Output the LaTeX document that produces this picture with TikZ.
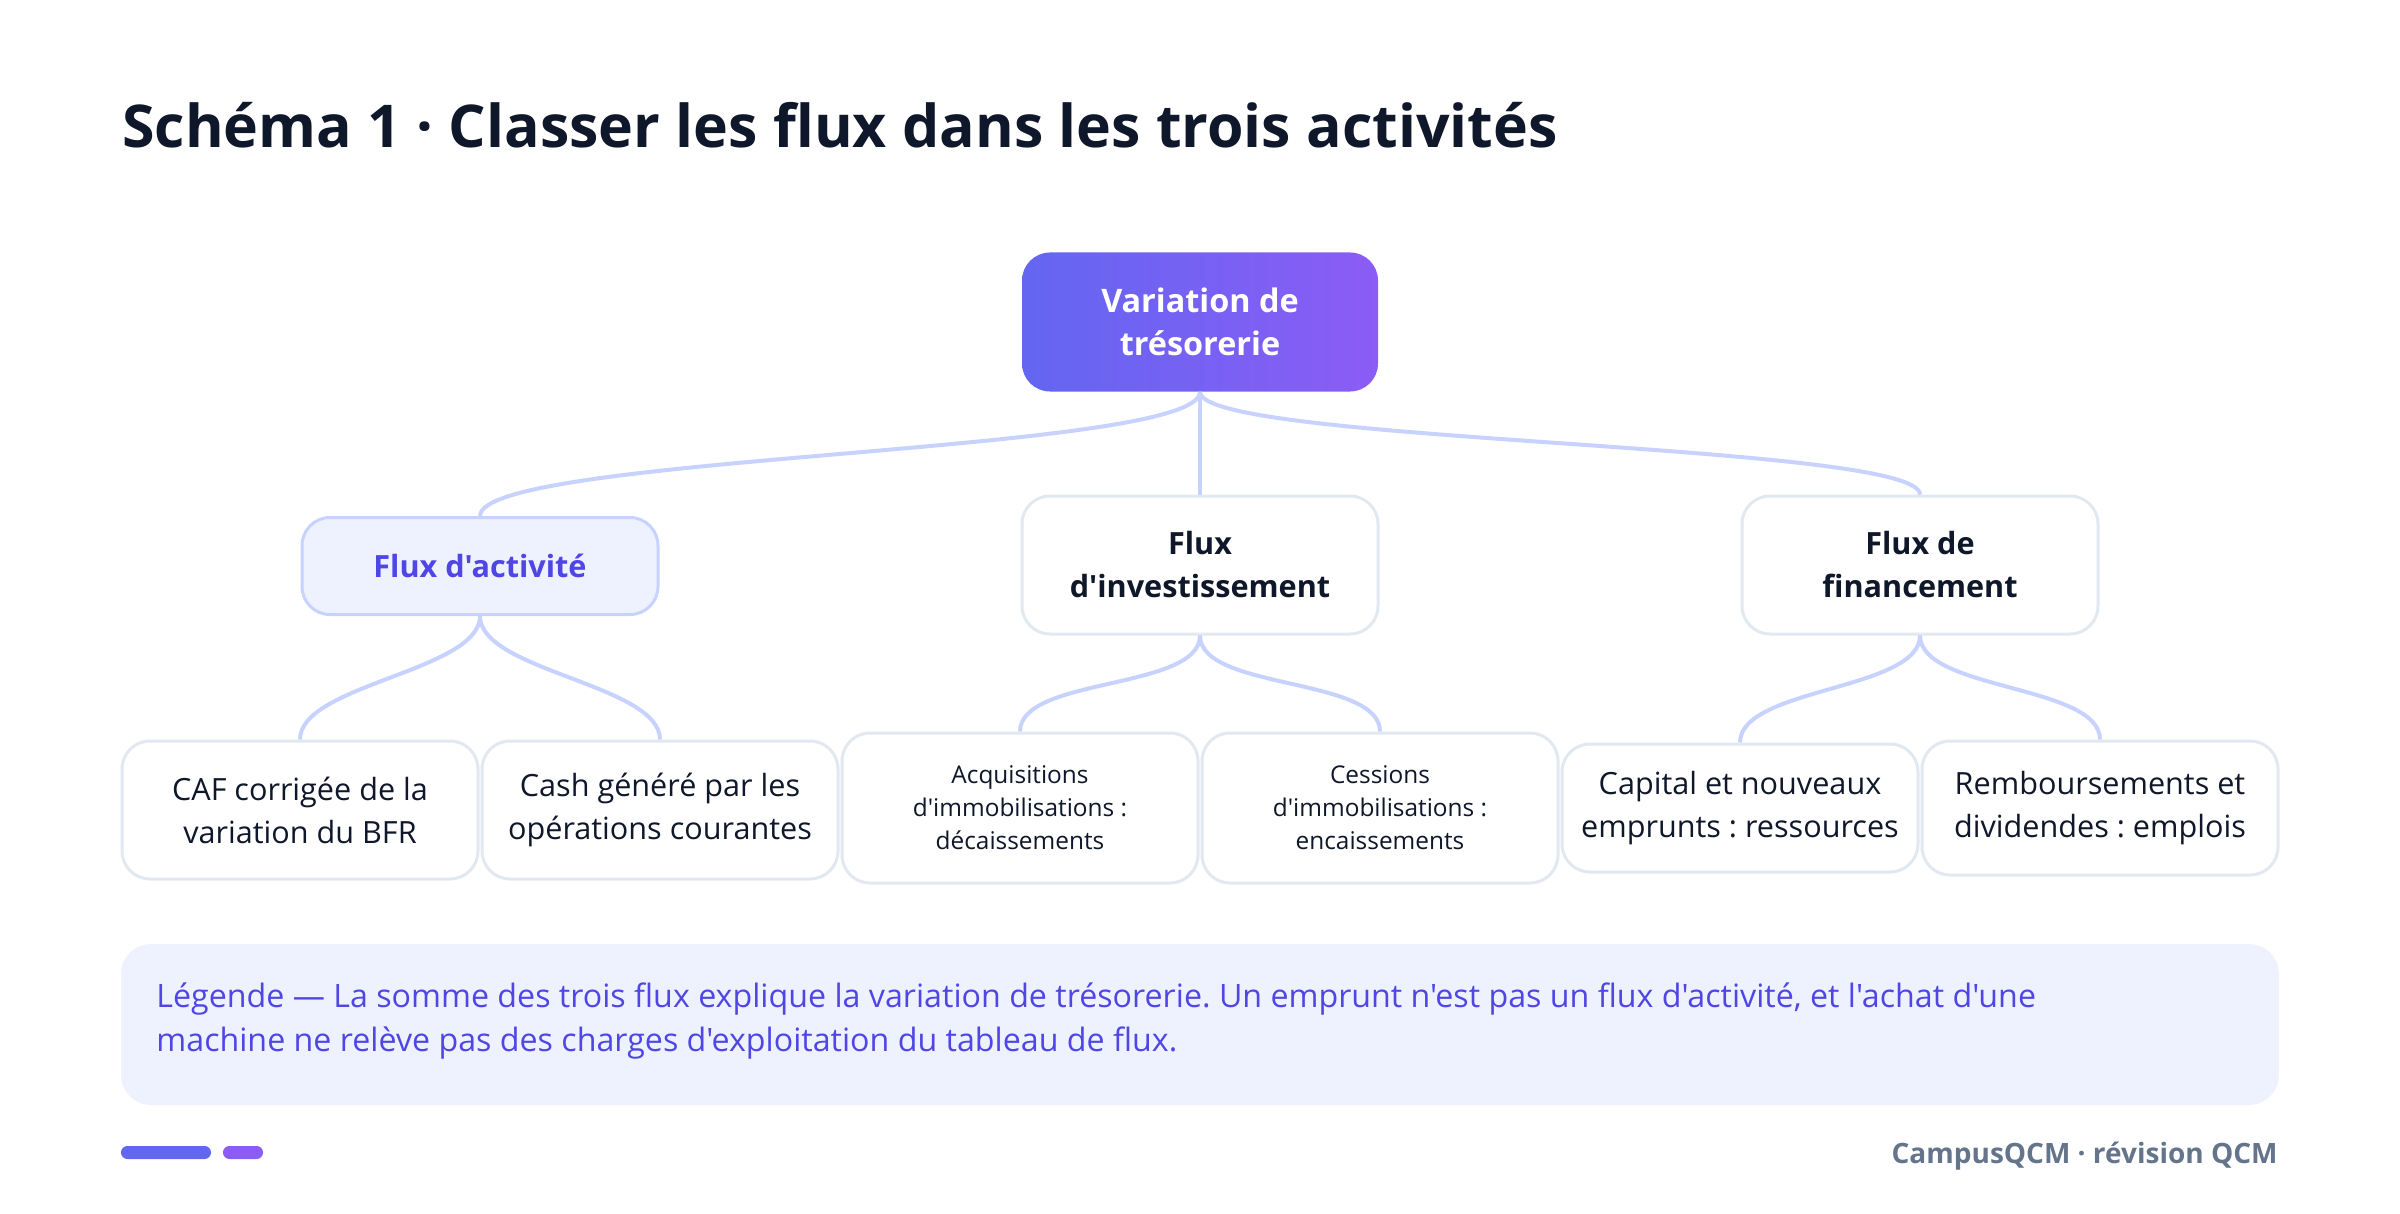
\documentclass[tikz,border=0pt]{standalone}
\usepackage{fontspec}
\newfontfamily\bodyfont{Open Sans}
\usetikzlibrary{positioning,calc}
\definecolor{ink}{HTML}{0F172A}
\definecolor{indigoA}{HTML}{6366F1}
\definecolor{violetA}{HTML}{8B5CF6}
\definecolor{wire}{HTML}{C7D2FE}
\definecolor{paleblue}{HTML}{EEF2FF}
\definecolor{deepindigo}{HTML}{4F46E5}
\definecolor{boxline}{HTML}{E2E8F0}
\definecolor{slate}{HTML}{64748B}
\newcommand{\leaffont}{\fontsize{15.3}{21.5}\selectfont}
\newcommand{\smallfont}{\fontsize{12.2}{16.5}\selectfont}
\tikzset{
    card/.style={draw=boxline,line width=1.5pt,rounded corners=14pt,fill=white,
        text=ink,align=center,inner sep=0pt,minimum width=178pt},
    rootbox/.style={rounded corners=14pt,left color=indigoA,right color=violetA,
        text=white,align=center,inner sep=0pt,minimum width=178pt,minimum height=69.5pt,
        font=\fontsize{16.2}{21.5}\selectfont\bfseries},
    activebox/.style={draw=wire,line width=1.5pt,rounded corners=14pt,fill=paleblue,
        text=deepindigo,align=center,inner sep=0pt,minimum width=178pt,minimum height=48.5pt,
        font=\leaffont\bfseries},
    groupbox/.style={card,minimum height=69pt,font=\leaffont\bfseries},
    leafbox/.style={card,minimum height=69pt,font=\leaffont},
    branch/.style={draw=wire,line width=2pt}
}
\begin{document}
\bodyfont\frenchspacing
\begin{tikzpicture}[x=0.5pt,y=-0.5pt]
    \useasboundingbox (0,0) rectangle (2400,1214);
    % title
    \node[anchor=base west,inner sep=0pt,text=ink,font=\fontsize{29.5}{34}\selectfont\bfseries] (title) at (122,148)
        {Schéma 1 · Classer les flux dans les trois activités};

    % tree
    \node[rootbox] (root) at (1200,322) {Variation de\\trésorerie};
    \node[activebox] (act) at (480,566) {Flux d'activité};
    \node[groupbox] (inv) at (1200,565) {Flux\\d'investissement};
    \node[groupbox] (fin) at (1920,565) {Flux de\\financement};

    \node[leafbox] (caf) at (300,810) {CAF corrigée de la\\variation du BFR};
    \node[leafbox] (cash) at (660,810) {Cash généré par les\\opérations courantes};
    \node[leafbox,minimum height=75pt,font=\smallfont] (acq) at (1020,808) {Acquisitions\\d'immobilisations :\\décaissements};
    \node[leafbox,minimum height=75pt,font=\smallfont] (ces) at (1380,808) {Cessions\\d'immobilisations :\\encaissements};
    \node[leafbox,minimum height=64pt] (cap) at (1740,808) {Capital et nouveaux\\emprunts : ressources};
    \node[leafbox,minimum height=67pt] (remb) at (2100,808) {Remboursements et\\dividendes : emplois};

    \draw[branch] (root.south) .. controls +(0,62) and +(0,-62) .. (act.north);
    \draw[branch] (root.south) -- (inv.north);
    \draw[branch] (root.south) .. controls +(0,52) and +(0,-52) .. (fin.north);
    \foreach \p/\c in {act/caf,act/cash,inv/acq,inv/ces,fin/cap,fin/remb}
        \draw[branch] (\p.south) .. controls +(0,55) and +(0,-55) .. (\c.north);

    % legend
    \fill[paleblue,rounded corners=15pt] (121,944) rectangle (2279,1105);
    \node[anchor=north west,inner sep=0pt,text=deepindigo,align=left,
        font=\fontsize{16.1}{22}\selectfont] (legend) at (156,982)
        {Légende — La somme des trois flux explique la variation de trésorerie. Un emprunt n'est pas un flux d'activité, et l'achat d'une\\
         machine ne relève pas des charges d'exploitation du tableau de flux.};

    % footer
    \fill[indigoA,rounded corners=3.2pt] (121,1146) rectangle (211,1159);
    \fill[violetA,rounded corners=3.2pt] (223,1146) rectangle (263,1159);
    \node[anchor=base east,inner sep=0pt,text=slate,font=\fontsize{14}{17}\selectfont\bfseries] (brand) at (2278,1163)
        {CampusQCM · révision QCM};
\end{tikzpicture}
\end{document}
